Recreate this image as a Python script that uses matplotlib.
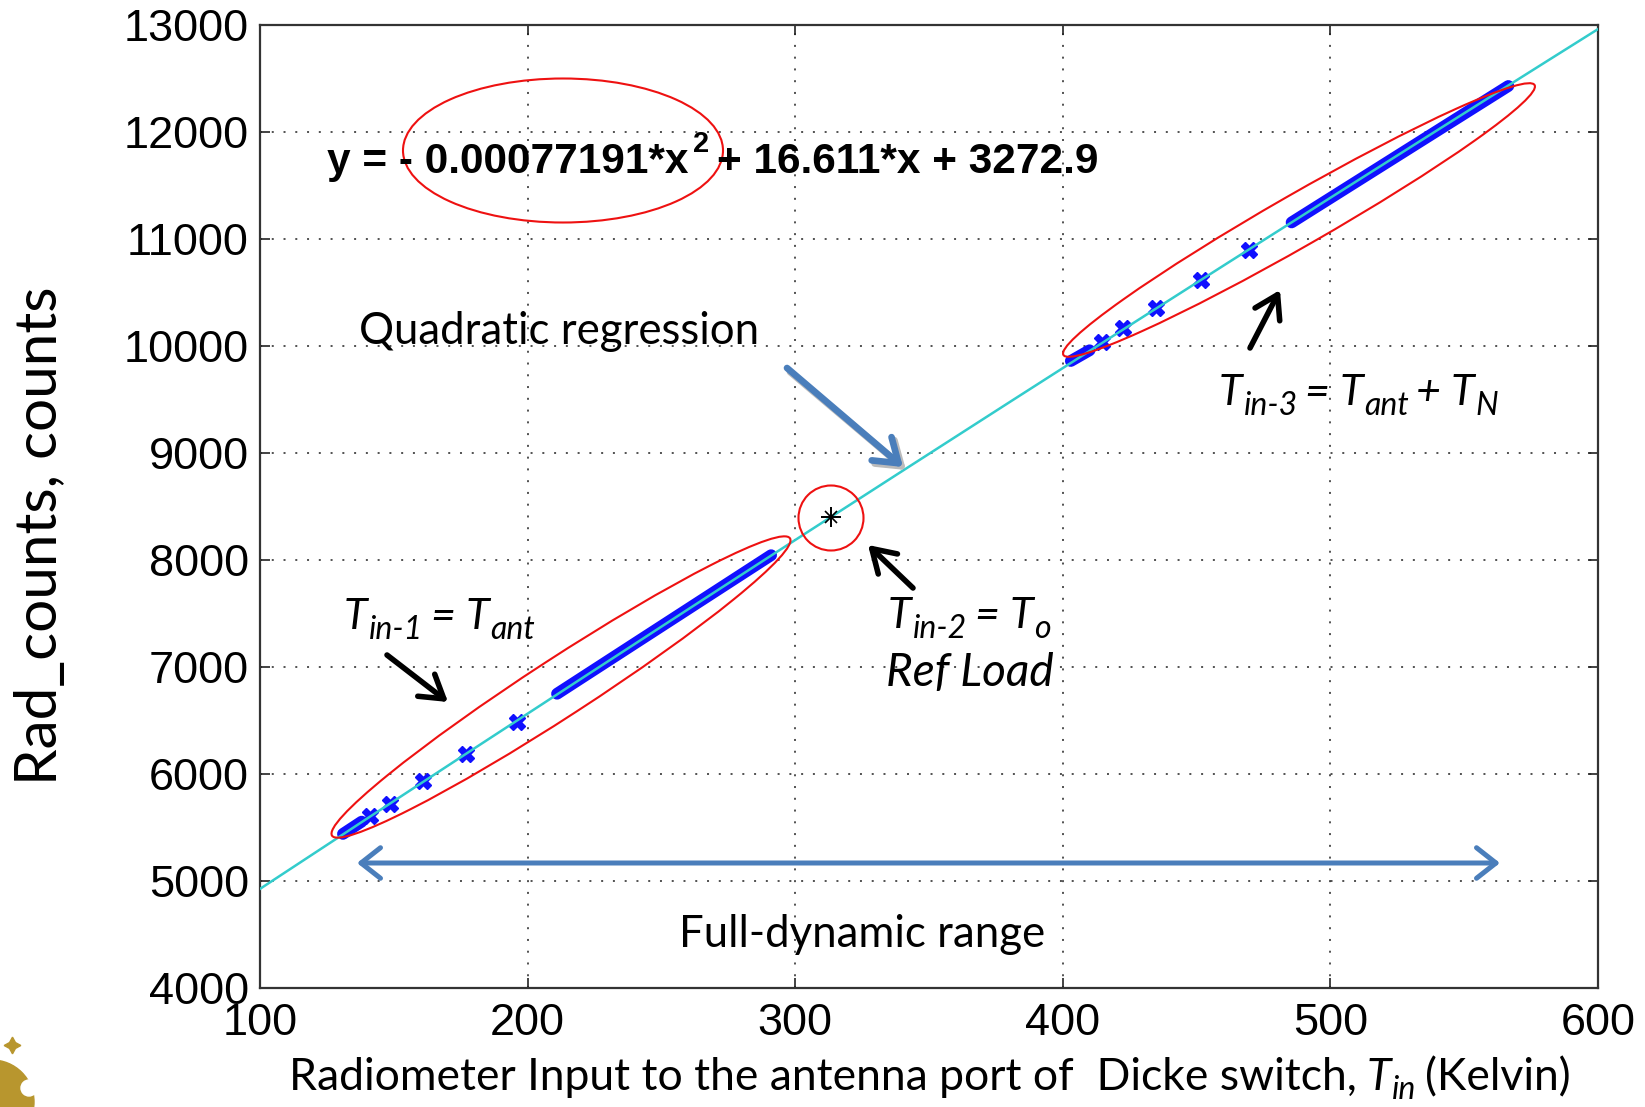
import numpy as np
import matplotlib.pyplot as plt
from matplotlib.patches import Ellipse, Circle

# quadratic regression printed on the chart
fit_coeffs = [-0.00077191, 16.611, 3272.9]

# antenna-side input temperatures (K) and radiometer counts
tin_ant_sweeps = [[131, 138], [211, 291]]
cnt_ant_sweeps = [[5440, 5555], [6750, 8045]]
tin_ant_steps = [141, 148.5, 161, 177, 196]
cnt_ant_steps = [5605, 5720, 5930, 6190, 6490]

# reference load
tin_ref = [313.5]
cnt_ref = [8400]

# antenna + noise source
tin_hot_sweeps = [[403, 410], [485.5, 566.5]]
cnt_hot_sweeps = [[9860, 9960], [11155, 12430]]
tin_hot_steps = [414.5, 422.5, 435, 451.5, 469.5]
cnt_hot_steps = [10040, 10165, 10355, 10615, 10900]

x_ticks = [100, 200, 300, 400, 500, 600]
y_ticks = [4000, 5000, 6000, 7000, 8000, 9000, 10000, 11000, 12000, 13000]

W, H = 1645, 1107
fig = plt.figure(figsize=(W / 100, H / 100), dpi=100)
ax = fig.add_axes([260 / W, 119 / H, 1338 / W, 963 / H])

blue = '#1010ff'
for xs, ys in zip(tin_ant_sweeps + tin_hot_sweeps, cnt_ant_sweeps + cnt_hot_sweeps):
    ax.plot(xs, ys, color=blue, lw=8.5, solid_capstyle='round', zorder=3)
ax.plot(tin_ant_steps + tin_hot_steps, cnt_ant_steps + cnt_hot_steps, ls='none',
        marker='X', ms=12, color=blue, mec=blue, zorder=3)

tin_fit = np.linspace(100, 600, 300)
ax.plot(tin_fit, np.polyval(fit_coeffs, tin_fit), color='#33cccc', lw=1.8, zorder=4)

ax.plot(tin_ref, cnt_ref, ls='none', marker='+', ms=15, mew=1.4, color='k', zorder=5)
ax.plot(tin_ref, cnt_ref, ls='none', marker='x', ms=9, mew=1.2, color='k', zorder=5)

ax.set_xlim(100, 600)
ax.set_ylim(4000, 13000)
ax.set_xticks(x_ticks)
ax.set_yticks(y_ticks)
ax.set_xticklabels([str(v) for v in x_ticks], family='Liberation Sans', fontsize=32.5)
ax.set_yticklabels([str(v) for v in y_ticks], family='Liberation Sans', fontsize=32.5)
ax.tick_params(direction='in', length=7, width=1.2, top=True, right=True,
               color='#222', labelcolor='black')
ax.tick_params(axis='x', pad=11)
ax.tick_params(axis='y', pad=8)
ax.grid(True, color='#222', lw=1.1, ls=(0, (1.3, 6.4)))
ax.set_axisbelow(True)
for sp in ax.spines.values():
    sp.set_linewidth(1.6)
    sp.set_color('#333')

ylab = ax.set_ylabel('Rad_counts, counts', family='Lato', fontsize=42)
ax.yaxis.set_label_coords(-0.1640, 0.47)
ylab.set_va('center')

# annotation layer in pixel coordinates
ov = fig.add_axes([0, 0, 1, 1], zorder=10)
ov.set_xlim(0, W)
ov.set_ylim(H, 0)
ov.axis('off')
renderer = fig.canvas.get_renderer()


def text_runs(x, y, runs, ha='left', **kw):
    """Lay out text pieces (text, size, drop_px, gap_px, style) along one baseline."""
    items = []
    cx = x
    for s, size, drop, gap, style in runs:
        cx += gap
        t = ov.text(cx, y + drop, s, fontsize=size, style=style,
                    va='baseline', ha='left', **kw)
        cx += t.get_window_extent(renderer).width
        items.append(t)
    if ha == 'center':
        shift = (cx - x) / 2
        for t in items:
            t.set_x(t.get_position()[0] - shift)
    return items


# equation
text_runs(327, 173, [('y = - 0.00077191*x', 30.5, 0, 0, 'normal'),
                     ('2', 21, -21, 4, 'normal'),
                     ('+ 16.611*x + 3272.9', 30.5, 0, 8, 'normal')],
          family='Liberation Sans', weight='bold')

cal = dict(family='Lato', color='black')
T, S, D = 31, 23, 10
it = 'italic'
text_runs(344, 629, [('T', T, 0, 0, it), ('in-1', S, D, 1, it), ('= T', T, 0, 8, it),
                     ('ant', S, D, 1, it)], **cal)
text_runs(888, 628, [('T', T, 0, 0, it), ('in-2', S, D, 1, it), ('= T', T, 0, 8, it),
                     ('o', S, D, 1, it)], **cal)
text_runs(886, 686, [('Ref Load', 33, 0, 0, it)], **cal)
text_runs(1219, 405, [('T', T, 0, 0, it), ('in-3', S, D, 1, it), ('= T', T, 0, 7, it),
                      ('ant', S, D, 1, it), ('+ T', T, 0, 7, it), ('N', S, D, 1, it)], **cal)
text_runs(359, 344, [('Quadratic regression', 31.5, 0, 0, 'normal')], **cal)
text_runs(679, 947, [('Full-dynamic range', 31.5, 0, 0, 'normal')], **cal)
text_runs(930, 1090, [('Radiometer Input to the antenna port of  Dicke switch,', 32, 0, 0, 'normal'),
                      ('T', 32, 0, 9, it), ('in', 23, 9, 1, it), ('(Kelvin)', 32, 0, 9, 'normal')],
          ha='center', **cal)

# red highlight rings
ring = dict(fill=False, ec='#ee1111', lw=1.5)
ov.add_patch(Ellipse((563, 150.5), 320, 144, **ring))
ov.add_patch(Ellipse((561, 687), 546, 58, angle=-33.0, **ring))
ov.add_patch(Ellipse((1299, 220), 543, 52, angle=-29.8, **ring))
ov.add_patch(Circle((831, 518), 32.5, **ring))


def arrow(p0, p1, color, lw, style='->', scale=20, hl=0.7, hw=0.45):
    ov.annotate('', xy=p1, xytext=p0,
                arrowprops=dict(arrowstyle=f'{style},head_length={hl},head_width={hw}',
                                color=color, lw=lw, mutation_scale=scale,
                                shrinkA=0, shrinkB=0))


arrow((387, 655), (448, 702), 'black', 4, hl=0.8, hw=0.5)
arrow((1250, 348), (1280, 290), 'black', 4, hl=0.8, hw=0.5)
arrow((913, 588), (868, 545), 'black', 4, hl=0.8, hw=0.5)
arrow((790, 372), (906, 470), '#bbbbbb', 4.8, hl=0.8, hw=0.55)
arrow((787, 368), (903, 467), '#4a7ebb', 4.8, hl=0.8, hw=0.55)
arrow((357, 863), (1500, 863), '#4a7ebb', 3.6, style='<->', hl=0.7, hw=0.55)

# partial logo in the lower-left corner
gold = '#b8962e'
ov.add_patch(Circle((-8, 1102), 42, color=gold))
ov.add_patch(Circle((29, 1088), 8, color='white'))
ov.plot([12], [1045], marker=(4, 1, 0), ms=12, color=gold)

fig.savefig('out.png', dpi=100)
